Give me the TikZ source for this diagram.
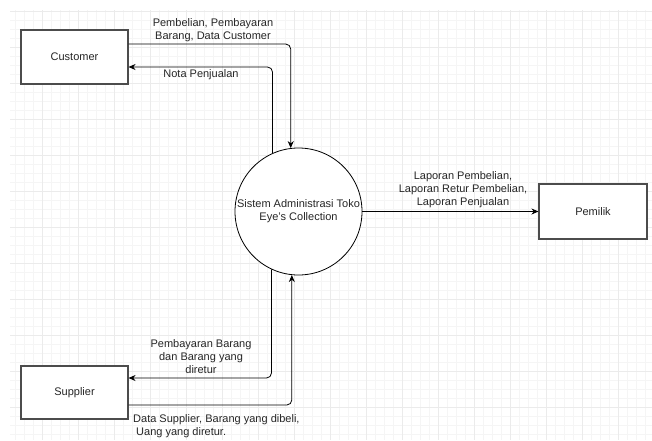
\documentclass[tikz,border=0pt]{standalone}
\usepackage{fontspec}
\setmainfont{Liberation Sans}
\usetikzlibrary{arrows.meta}
\begin{document}
\begin{tikzpicture}[x=1pt,y=-1pt,
  every node/.style={font=\fontsize{11}{13}\selectfont, text=black!85},
  entity/.style={draw=black!70, line width=1.1pt, fill=white, rectangle, inner sep=0pt},
  proc/.style={draw=black, line width=0.8pt, fill=white, circle, minimum size=127pt, inner sep=0pt, align=center},
  flow/.style={draw=black, line width=0.8pt, rounded corners=5pt, -{Stealth[length=7pt,width=6pt]}},
  lbl/.style={align=center, inner sep=0pt},
  minorgrid/.style={draw=black!4, line width=0.6pt},
  majorgrid/.style={draw=black!8, line width=0.6pt}]
\useasboundingbox (0,0) rectangle (652,440);
\fill[white] (0,0) rectangle (652,440);
% grid
\begin{scope}
\clip (10,10) rectangle (652,440);
\foreach \i in {0,...,72} {
  \draw[minorgrid] (6+9*\i,0) -- (6+9*\i,440);
}
\foreach \i in {0,...,48} {
  \draw[minorgrid] (0,2+9*\i) -- (652,2+9*\i);
}
\foreach \i in {0,...,18} {
  \draw[majorgrid] (6+36*\i,0) -- (6+36*\i,440);
}
\foreach \i in {0,...,12} {
  \draw[majorgrid] (0,11+36*\i) -- (652,11+36*\i);
}
\end{scope}
% nodes
\node[entity, minimum width=107pt, minimum height=54pt] (cust) at (74.5,57) {Customer};
\node[entity, minimum width=107pt, minimum height=53pt] (sup) at (74.5,392.5) {Supplier};
\node[entity, minimum width=108pt, minimum height=55pt] (pem) at (593,211.5) {Pemilik};
\node[proc] (sys) at (298.5,211.5) {Sistem Administrasi Toko\\Eye's Collection};
% flows
\draw[flow] ([yshift=13pt]cust.east) -| (sys.97.7);
\draw[flow] (sys.114.7) |- ([yshift=-10pt]cust.east);
\draw[flow] (sys.east) -- (pem.west);
\draw[flow] (sys.245.3) |- ([yshift=14.5pt]sup.east);
\draw[flow] ([yshift=-12.5pt]sup.east) -| (sys.264.1);
% labels
\node[lbl] (l1) at (213,30.5) {Pembelian, Pembayaran\\Barang, Data Customer};
\node[lbl] (l2) at (201,75) {Nota Penjualan};
\node[lbl] (l3) at (463,190) {Laporan Pembelian,\\Laporan Retur Pembelian,\\Laporan Penjualan};
\node[lbl] (l4) at (201,357) {Pembayaran Barang\\dan Barang yang\\diretur};
\node[lbl, align=left, anchor=west] (l5) at (133,426) {Data Supplier, Barang yang dibeli,\\\hspace*{3pt}Uang yang diretur.};
\end{tikzpicture}
\end{document}
